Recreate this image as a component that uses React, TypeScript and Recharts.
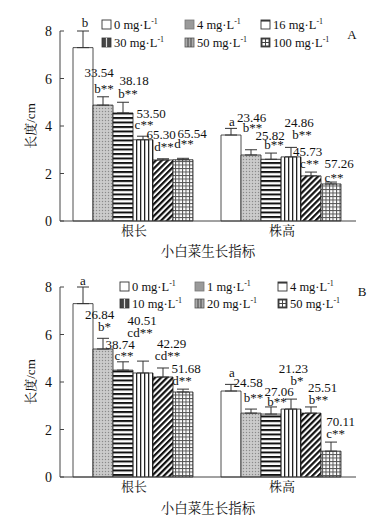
import { BarChart, Bar, XAxis, YAxis, ErrorBar, LabelList } from 'recharts'

const categories = ['根长', '株高']

// panel A
const dosesA = [0, 4, 16, 30, 50, 100]
const rootA = [7.3, 4.88, 4.55, 3.42, 2.57, 2.58]
const rootErrA = [0.7, 0.35, 0.45, 0.15, 0.05, 0.06]
const heightA = [3.62, 2.78, 2.6, 2.7, 1.9, 1.56]
const heightErrA = [0.28, 0.22, 0.26, 0.4, 0.16, 0.08]
const rootLetterA = ['b', 'b**', 'b**', 'c**', 'd**', 'd**']
const rootPctA = ['', '33.54', '38.18', '53.50', '65.30', '65.54']
const heightLetterA = ['a', 'b**', 'b**', 'b**', 'c**', 'c**']
const heightPctA = ['', '23.46', '25.82', '24.86', '45.73', '57.26']

// panel B
const dosesB = [0, 1, 4, 10, 20, 50]
const rootB = [7.3, 5.39, 4.5, 4.38, 4.21, 3.58]
const rootErrB = [0.7, 0.45, 0.35, 0.5, 0.38, 0.12]
const heightB = [3.62, 2.69, 2.65, 2.86, 2.69, 1.09]
const heightErrB = [0.28, 0.17, 0.3, 0.42, 0.26, 0.38]
const rootLetterB = ['a', 'b*', 'c**', 'cd**', 'cd**', 'd**']
const rootPctB = ['', '26.84', '38.74', '40.51', '42.29', '51.68']
const heightLetterB = ['a', 'b**', 'b**', 'b*', 'b**', 'c**']
const heightPctB = ['', '24.58', '27.06', '21.23', '25.51', '70.11']

// label nudges [pct dx, pct dy, letter dx, letter dy], hand placed like the original
const nudgeRootA = [[0, 0, -1, 0], [-7, -3.5, -2, 0], [8, -1.5, 2, 0], [5, -2.5, -2, -3.5], [-5, -3.5, -2, -3.5], [6, -4.5, -2, -6.5]]
const nudgeHeightA = [[0, 0, -2, 2], [-2.5, -12, -1.5, -14], [-4, 2.5, 0, 0], [5, -4, 8, -4], [-6.5, 0, -4.5, 0], [5, 1.5, 0, 3.5]]
const nudgeRootB = [[0, 0, -3, 1.5], [-6.5, -3, -1.5, -3], [-6, 2.7, -2, 1.7], [-4, -20.6, -6, -20.6], [5.5, -3.5, 1.5, -3.5], [0, 0, -4, 0]]
const nudgeHeightB = [[0, 0, -2, -3], [-6, -6.5, -0.5, -3.5], [5, 5.5, 3, 3.5], [-0.7, -10.5, 3, -10.5], [8.5, 1.5, 4.5, 1.5], [6.7, 0, 1.7, 0]]

const yTicks = [0, 2, 4, 6, 8]
const FONT = '"Liberation Serif", "Noto Serif CJK SC", "Noto Sans CJK SC", serif'
const fills = ['#fff', 'url(#pGrey)', 'url(#pH)', 'url(#pV)', 'url(#pD)', 'url(#pGrid)']

function Patterns() {
  return (
    <svg width={0} height={0} style={{ position: 'absolute' }}>
      <defs>
        <pattern id="pGrey" width={3} height={3} patternUnits="userSpaceOnUse">
          <rect width={3} height={3} fill="#c4c4c4" />
          <rect width={1} height={1} fill="#8a8a8a" />
          <rect x={1.5} y={1.5} width={1} height={1} fill="#e0e0e0" />
        </pattern>
        <pattern id="pH" width={5} height={4.5} patternUnits="userSpaceOnUse">
          <rect width={5} height={4.5} fill="#fff" />
          <rect y={0} width={5} height={2} fill="#111" />
        </pattern>
        <pattern id="pV" width={4} height={4} patternUnits="userSpaceOnUse">
          <rect width={4} height={4} fill="#fff" />
          <rect x={0} width={1.3} height={4} fill="#222" />
        </pattern>
        <pattern id="pD" width={4.2} height={4.2} patternUnits="userSpaceOnUse" patternTransform="rotate(45)">
          <rect width={4.2} height={4.2} fill="#fff" />
          <rect width={2.2} height={4.2} fill="#111" />
        </pattern>
        <pattern id="pGrid" width={3.5} height={3.5} patternUnits="userSpaceOnUse">
          <rect width={3.5} height={3.5} fill="#fff" />
          <rect width={3.5} height={1} fill="#555" />
          <rect width={1} height={3.5} fill="#555" />
        </pattern>
      </defs>
    </svg>
  )
}

function Swatch({ i, x, y }: { i: number; x: number; y: number }) {
  const s = 9
  if (i === 1) return <rect x={x} y={y} width={s} height={s} fill="#9a9a9a" stroke="#777" strokeWidth={0.8} />
  if (i === 2) return (
    <g>
      <rect x={x} y={y} width={s} height={s} fill="#fff" stroke="#333" strokeWidth={0.9} />
      <line x1={x} y1={y + 0.8} x2={x + s} y2={y + 0.8} stroke="#333" strokeWidth={1.5} />
    </g>
  )
  if (i === 3) return (
    <g>
      <rect x={x} y={y} width={s} height={s} fill="#444" stroke="#333" strokeWidth={0.8} />
      <line x1={x + 4.5} y1={y} x2={x + 4.5} y2={y + s} stroke="#ddd" strokeWidth={1.2} />
    </g>
  )
  if (i === 4) return (
    <g>
      <rect x={x} y={y} width={s} height={s} fill="#aaa" stroke="#555" strokeWidth={0.8} />
      <line x1={x + 3} y1={y} x2={x + 3} y2={y + s} stroke="#444" strokeWidth={1} />
      <line x1={x + 6} y1={y} x2={x + 6} y2={y + s} stroke="#444" strokeWidth={1} />
    </g>
  )
  if (i === 5) return (
    <g>
      <rect x={x} y={y} width={s} height={s} fill="#444" stroke="#333" strokeWidth={0.8} />
      <rect x={x + 1.5} y={y + 1.5} width={2.5} height={2.5} fill="#fff" />
      <rect x={x + 5} y={y + 1.5} width={2.5} height={2.5} fill="#fff" />
      <rect x={x + 1.5} y={y + 5} width={2.5} height={2.5} fill="#fff" />
      <rect x={x + 5} y={y + 5} width={2.5} height={2.5} fill="#fff" />
    </g>
  )
  return <rect x={x} y={y} width={s} height={s} fill="#fff" stroke="#333" strokeWidth={0.9} />
}

interface PanelProps {
  tag: string
  doses: number[]
  root: number[]
  rootErr: number[]
  height: number[]
  heightErr: number[]
  rootLetter: string[]
  rootPct: string[]
  heightLetter: string[]
  heightPct: string[]
  rootNudge: number[][]
  heightNudge: number[][]
  chartHeight: number
  top: number
  bottom: number
  legendY: number[]
  swatchX: number[]
  tagPos: number[]
}

function Panel(p: PanelProps) {
  const data = categories.map((name, c) => {
    const row: Record<string, string | number> = { name }
    const vals = c === 0 ? p.root : p.height
    const errs = c === 0 ? p.rootErr : p.heightErr
    vals.forEach((v, i) => { row['s' + i] = v; row['e' + i] = errs[i] })
    return row
  })

  const renderLabel = (i: number) => (props: any) => {
    const { x, y, width, height, value, index } = props
    const err = index === 0 ? p.rootErr[i] : p.heightErr[i]
    const letter = index === 0 ? p.rootLetter[i] : p.heightLetter[i]
    const pct = index === 0 ? p.rootPct[i] : p.heightPct[i]
    const [pdx, pdy, ldx, ldy] = index === 0 ? p.rootNudge[i] : p.heightNudge[i]
    const errTop = y - err * height / value
    const cx = x + width / 2 + 3
    return (
      <g style={{ fontFamily: FONT, fontSize: 13 }} fill="#111">
        <text x={cx + ldx} y={errTop - 4 + ldy} textAnchor="middle">{letter}</text>
        {pct && <text x={cx + pdx} y={errTop - 16 + pdy} textAnchor="middle">{pct}</text>}
      </g>
    )
  }

  const renderTick = (props: any) => {
    const { x, y, payload } = props
    return (
      <g>
        <line x1={x + 8} y1={y} x2={x + 12} y2={y} stroke="#444" strokeWidth={1} />
        <text x={x} y={y} dy={5} textAnchor="end" fontSize={14} fontFamily={FONT} fill="#111">{payload.value}</text>
      </g>
    )
  }

  const plotTop = p.top
  const plotBottom = p.chartHeight - p.bottom
  return (
    <div style={{ position: 'relative', width: 378, height: p.chartHeight }}>
      <BarChart width={378} height={p.chartHeight} data={data} barCategoryGap={13} barGap={0}
        margin={{ top: p.top, right: 22, left: 0, bottom: 0 }}>
        <XAxis dataKey="name" height={p.bottom} tickLine={false} tickSize={0} tickMargin={5}
          axisLine={{ stroke: '#444' }}
          tick={{ fontSize: 13, fill: '#111', fontFamily: FONT }}
          label={{ value: '小白菜生长指标', position: 'insideBottom', offset: 2, fontSize: 13.5, fill: '#111', fontFamily: FONT }} />
        <YAxis width={60} domain={[0, 8]} ticks={yTicks} tickLine={false} tickSize={0} tickMargin={8}
          axisLine={{ stroke: '#444' }} tick={renderTick} />
        {p.doses.map((d, i) => (
          <Bar key={d} dataKey={'s' + i} fill={fills[i]} stroke="#222" strokeWidth={0.8} isAnimationActive={false}>
            <ErrorBar dataKey={(r: any) => [0, r['e' + i]]} width={6} stroke="#333" strokeWidth={1} direction="y" />
            <LabelList dataKey={'s' + i} content={renderLabel(i)} />
          </Bar>
        ))}
      </BarChart>
      <svg width={378} height={p.chartHeight} style={{ position: 'absolute', left: 0, top: 0, pointerEvents: 'none' }}>
        <text x={30} y={(plotTop + plotBottom) / 2} transform={`rotate(-90 30 ${(plotTop + plotBottom) / 2})`}
          textAnchor="middle" dy={5} fontSize={13} fontFamily={FONT} fill="#111">长度/cm</text>
        {p.doses.map((d, i) => {
          const col = i % 3
          const row = Math.floor(i / 3)
          const sx = p.swatchX[col]
          const sy = p.legendY[row]
          return (
            <g key={d}>
              <Swatch i={i} x={sx} y={sy - 5} />
              <text x={sx + 12} y={sy + 4} fontSize={12.5} fontFamily={FONT} fill="#111">
                {d} mg·L<tspan fontSize={8} dy={-5}>-1</tspan>
              </text>
            </g>
          )
        })}
        <text x={p.tagPos[0]} y={p.tagPos[1]} textAnchor="middle" dy={5} fontSize={13} fontFamily={FONT} fill="#111">{p.tag}</text>
      </svg>
    </div>
  )
}

export default function App() {
  return (
    <div style={{ position: 'absolute', left: 0, top: 0, width: 378, height: 515, background: '#fff' }}>
      <Patterns />
      <Panel tag="A" doses={dosesA} root={rootA} rootErr={rootErrA} height={heightA} heightErr={heightErrA}
        rootLetter={rootLetterA} rootPct={rootPctA} heightLetter={heightLetterA} heightPct={heightPctA}
        rootNudge={nudgeRootA} heightNudge={nudgeHeightA}
        chartHeight={258} top={31} bottom={37} legendY={[25, 43]} swatchX={[102, 185, 261]} tagPos={[352, 34]} />
      <Panel tag="B" doses={dosesB} root={rootB} rootErr={rootErrB} height={heightB} heightErr={heightErrB}
        rootLetter={rootLetterB} rootPct={rootPctB} heightLetter={heightLetterB} heightPct={heightPctB}
        rootNudge={nudgeRootB} heightNudge={nudgeHeightB}
        chartHeight={257} top={29} bottom={38} legendY={[29, 46]} swatchX={[120, 195, 278]} tagPos={[362, 33]} />
    </div>
  )
}
